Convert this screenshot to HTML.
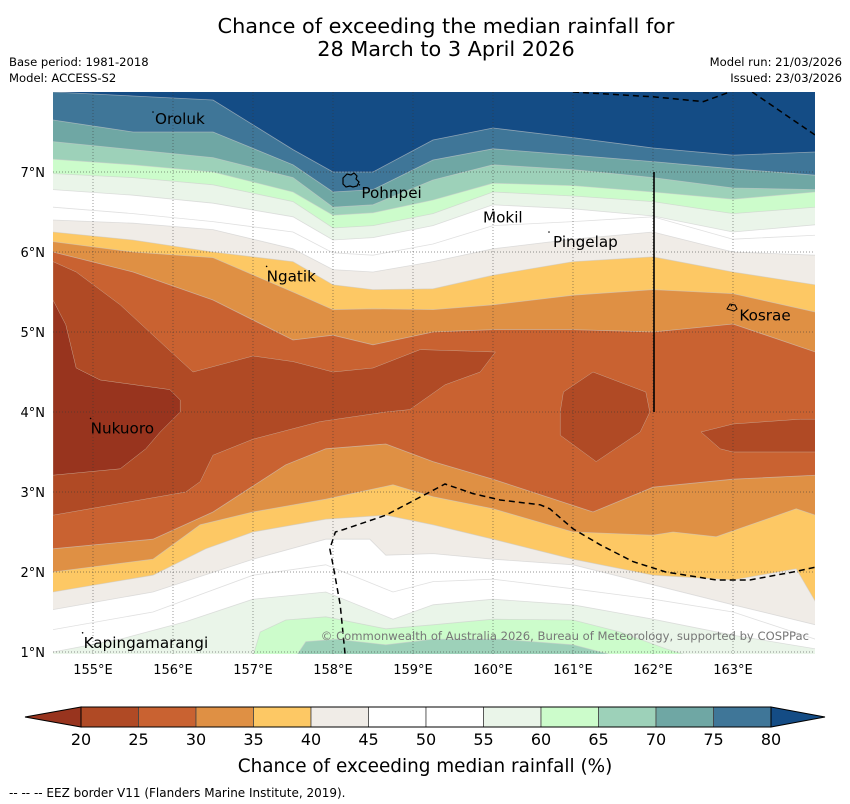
<!DOCTYPE html>
<html><head><meta charset="utf-8">
<style>
html,body{margin:0;padding:0;background:#fff;width:850px;height:804px;overflow:hidden}
svg{display:block;font-family:"DejaVu Sans","Liberation Sans",sans-serif}
</style></head>
<body>
<svg id="chart" width="850" height="804" viewBox="0 0 850 804" xmlns="http://www.w3.org/2000/svg">
<text x="446" y="33" font-size="20.8" text-anchor="middle" fill="#000">Chance of exceeding the median rainfall for</text>
<text x="446" y="56" font-size="20.8" text-anchor="middle" fill="#000">28 March to 3 April 2026</text>
<text x="9" y="66" font-size="11.6">Base period: 1981-2018</text>
<text x="9" y="82" font-size="11.6">Model: ACCESS-S2</text>
<text x="842" y="66" font-size="11.6" text-anchor="end">Model run: 21/03/2026</text>
<text x="842" y="82" font-size="11.6" text-anchor="end">Issued: 23/03/2026</text>
<defs><clipPath id="mapclip"><rect x="53" y="92" width="762" height="562"/></clipPath></defs>
<g id="map" clip-path="url(#mapclip)"></g>
<g id="overlay"></g>
<g id="colorbar"></g>
<text x="425" y="772" font-size="18.4" text-anchor="middle">Chance of exceeding median rainfall (%)</text>
<text x="9" y="797" font-size="12">--  --  -- EEZ border V11 (Flanders Marine Institute, 2019).</text>
</svg>
<script>
// ---- data ----
const levels = [30,35,40,45,50,55,60,65,70,75,80];
const northLons = [154.5,155.5,156.5,157.5,158.0,158.5,159.25,160.0,161.0,162.0,163.0,164.03];
const north30 = [6.00,5.75,5.40,4.90,4.96,4.84,5.00,5.03,5.03,5.00,5.10,4.75];
const north35 = [6.13,6.00,5.93,5.50,5.28,5.29,5.28,5.34,5.46,5.53,5.48,5.25];
const north40 = [6.25,6.15,6.00,5.88,5.59,5.53,5.54,5.71,5.88,5.94,5.75,5.59];
const north45 = [6.40,6.36,6.28,6.04,5.78,5.75,5.88,6.04,6.16,6.25,6.00,5.96];
const north50 = [6.56,6.48,6.38,6.25,5.99,5.96,6.10,6.33,6.38,6.44,6.16,6.21];
const north55 = [6.78,6.71,6.61,6.44,6.15,6.18,6.33,6.59,6.54,6.45,6.25,6.34];
const north60 = [6.98,6.93,6.84,6.63,6.30,6.33,6.48,6.75,6.70,6.63,6.48,6.56];
const north65 = [7.16,7.09,7.00,6.75,6.46,6.49,6.65,6.86,6.83,6.75,6.66,6.75];
const north70 = [7.38,7.28,7.18,6.93,6.56,6.59,6.90,7.09,7.03,6.93,6.80,6.78];
const north75 = [7.65,7.50,7.50,7.09,6.75,6.78,7.15,7.29,7.21,7.13,7.04,6.96];
const north80 = [8.00,7.95,7.90,7.28,7.00,7.00,7.40,7.55,7.43,7.30,7.21,7.25];

const south30Lons = [154.5,155.75,156.5,157.41,157.91,158.66,159.25,160,161.25,162,163,164.03];
const south30Lats = [2.29,2.41,2.75,3.34,3.54,3.60,3.38,3.16,2.75,3.06,3.16,3.21];
const south35Lons = [154.5,155.75,156.34,157,157.91,158.75,159.25,160,161,162,162.25,162.79,163.79,164.03];
const south35Lats = [2.0,2.16,2.59,2.75,2.91,3.09,2.94,2.79,2.50,2.46,2.50,2.44,2.79,2.71];
const south40Lons = [154.5,155.75,156.41,157,157.91,158.66,159.25,160,161,162,163,163.79,164.03];
const south40Lats = [1.75,1.96,2.29,2.50,2.66,2.71,2.59,2.41,2.16,1.96,1.90,2.04,1.63];
const south45Lons = [154.5,155.75,157,157.91,158.46,158.66,159.25,160,161,162,163,164.03];
const south45Lats = [1.53,1.75,2.16,2.41,2.41,2.21,2.23,2.16,2.09,1.84,1.59,1.34];
const south50Lons = [154.5,155.75,157,157.91,158.75,159.25,160,161,162,163,164.03];
const south50Lats = [1.28,1.50,1.96,2.09,1.75,1.88,1.91,1.79,1.66,1.50,1.16];
const south55Lons = [154.5,155.34,156.16,157,157.91,158.75,159.25,160,161,162,163,164.03];
const south55Lats = [1.00,1.16,1.38,1.66,1.75,1.41,1.59,1.66,1.59,1.41,1.21,1.04];
const south60Lons = [157,157.09,157.41,157.91,158.66,159.25,160,161,161.59,162.16,162.46];
const south60Lats = [0.95,1.25,1.40,1.44,1.29,1.34,1.41,1.40,1.25,1.04,0.95];
const south65Lons = [157.54,157.66,158.04,158.66,159.25,160.09,161,161.54];
const south65Lats = [0.95,1.13,1.16,1.09,1.16,1.16,1.09,0.95];

const low2025Lons = [154.5,154.79,155.34,155.88,156.25,157,157.5,158,158.5,159.09,160.03,159.84,159.4,158.96,158.66,157.84,157,156.5,156.34,156.16,154.5];
const low2025Lats = [5.88,5.75,5.34,4.84,4.5,4.7,4.63,4.5,4.55,4.78,4.75,4.5,4.34,4.03,4.0,3.88,3.66,3.46,3.13,3.0,2.71];
const lowBelow20Lons = [154.5,154.66,154.79,155.09,155.96,156.09,156.09,155.84,155.66,155.34,154.5];
const lowBelow20Lats = [5.40,5.09,4.55,4.40,4.28,4.15,4.0,3.75,3.54,3.29,3.21];
const blobALons = [160.84,160.88,161.25,161.91,161.96,161.84,161.29,160.84];
const blobALats = [4.0,4.25,4.5,4.25,4.0,3.75,3.38,3.71];
const blobBLons = [162.6,163,163.84,164.1,164.1,163,162.84];
const blobBLats = [3.75,3.85,3.91,3.91,3.5,3.5,3.54];

const eezNorthLons = [161,162,162.63,162.96];
const eezNorthLats = [8.0,7.94,7.88,8.0];
const eezNEastLons = [163.24,164.03];
const eezNEastLats = [8.0,7.46];
const eezSouthLons = [158.15,158.09,158,157.96,158.03,158.13,158.66,159.4,159.75,160.09,160.59,160.71,161,161.34,161.75,162.16,162.79,163.21,163.75,164.03];
const eezSouthLats = [0.98,1.59,2.09,2.29,2.5,2.53,2.71,3.1,2.98,2.9,2.84,2.79,2.54,2.34,2.13,2.0,1.9,1.9,2.0,2.06];

const lonTicks = [155,156,157,158,159,160,161,162,163];
const latTicks = [1,2,3,4,5,6,7];
const cbTicks = [20,25,30,35,40,45,50,55,60,65,70,75,80];
const bandColors = ["#b04a25","#c96231","#df9044","#fdc864","#f0ece7","#ffffff","#ffffff","#eaf5e9","#ccfccb","#9dd1b9","#6fa7a4","#3f7698"];
const colorBelow = "#98341e";
const colorAbove = "#144c85";

const islands = [
 {name:"Oroluk",lon:155.75,lat:7.65,dx:2,dy:-1},
 {name:"Pohnpei",lon:158.33,lat:6.74,dx:2,dy:0},
 {name:"Mokil",lon:160.0,lat:6.43,dx:-10,dy:0},
 {name:"Pingelap",lon:160.7,lat:6.15,dx:4,dy:2},
 {name:"Ngatik",lon:157.17,lat:5.72,dx:0,dy:2},
 {name:"Kosrae",lon:162.98,lat:5.23,dx:8,dy:2},
 {name:"Nukuoro",lon:154.97,lat:3.82,dx:0,dy:2},
 {name:"Kapingamarangi",lon:154.87,lat:1.14,dx:1,dy:2}
];

// ---- axes ----
const lonMin=154.5, lonMax=164.025, latMin=0.975, latMax=8.0;
const X0=53, X1=815, Y0=92, Y1=654;
const xs = lon => X0 + (lon-lonMin)/(lonMax-lonMin)*(X1-X0);
const ys = lat => Y0 + (latMax-lat)/(latMax-latMin)*(Y1-Y0);
const NS="http://www.w3.org/2000/svg";
const map=document.getElementById('map');
const overlay=document.getElementById('overlay');
function mk(tag,attrs,parent){const e=document.createElementNS(NS,tag);for(const k in attrs)e.setAttribute(k,attrs[k]);parent.appendChild(e);return e;}
function pts(lons,lats){return lons.map((l,i)=>xs(l).toFixed(1)+","+ys(lats[i]).toFixed(1));}

let bg=mk('rect',{x:X0,y:Y0,width:X1-X0,height:Y1-Y0,fill:bandColors[1]},map);



const northCurves=[north30,north35,north40,north45,north50,north55,north60,north65,north70,north75,north80];
northCurves.forEach((lats,i)=>{
  const L=levels[i];
  const col = L>=80?colorAbove:bandColors[(L-20)/5];
  const p=[xs(lonMin-0.2)+","+ys(9)].concat([xs(lonMin-0.2)+","+ys(lats[0])],pts(northLons,lats),[xs(lonMax+0.2)+","+ys(lats[lats.length-1]),xs(lonMax+0.2)+","+ys(9)]);
  const poly=mk('polygon',{points:p.join(' '),fill:col},map);
  
  
  const ln=mk('polyline',{points:pts(northLons,lats).join(' '),fill:'none',stroke:'#cccccc','stroke-width':0.8,'stroke-opacity':0.6},map);
  
  
});

function blob(lons,lats,col,name){
  const p=mk('polygon',{points:pts(lons,lats).join(' '),fill:col,stroke:'#c9a08a','stroke-width':0.5},map);
  
  
}
blob(low2025Lons,low2025Lats,bandColors[0],'band-20-25-west');
blob(lowBelow20Lons,lowBelow20Lats,colorBelow,'band-below-20-west');
blob(blobALons,blobALats,bandColors[0],'band-20-25-central');
blob(blobBLons,blobBLats,bandColors[0],'band-20-25-east');

const southCurves=[[south30Lons,south30Lats,30],[south35Lons,south35Lats,35],[south40Lons,south40Lats,40],[south45Lons,south45Lats,45],[south50Lons,south50Lats,50],[south55Lons,south55Lats,55],[south60Lons,south60Lats,60],[south65Lons,south65Lats,65]];
southCurves.forEach(([lons,lats,L])=>{
  const col=bandColors[(L-20)/5];
  const first=lons[0], last=lons[lons.length-1];
  let p=pts(lons,lats);
  const full = first<=lonMin+0.01 && last>=lonMax-0.01;
  if(full){ p=[xs(lonMin-0.2)+","+ys(lats[0])].concat(p,[xs(lonMax+0.2)+","+ys(lats[lats.length-1]),xs(lonMax+0.2)+","+ys(0),xs(lonMin-0.2)+","+ys(0)]); }
  else { p=p.concat([xs(last)+","+ys(0),xs(first)+","+ys(0)]); }
  const poly=mk('polygon',{points:p.join(' '),fill:col},map);
  
  
  const ln=mk('polyline',{points:pts(lons,lats).join(' '),fill:'none',stroke:'#cccccc','stroke-width':0.8,'stroke-opacity':0.6},map);
  
  
});

lonTicks.forEach(l=>{
  const g=mk('line',{x1:xs(l),x2:xs(l),y1:Y0,y2:Y1,stroke:'#333','stroke-width':0.7,'stroke-dasharray':'1,2','stroke-opacity':0.7},map);
  
  
  const t=mk('text',{x:xs(l),y:674,'font-size':13,'text-anchor':'middle'},overlay);
  t.textContent=l+'°E';
  
  
});
latTicks.forEach(l=>{
  const g=mk('line',{x1:X0,x2:X1,y1:ys(l),y2:ys(l),stroke:'#333','stroke-width':0.7,'stroke-dasharray':'1,2','stroke-opacity':0.7},map);
  
  
  const t=mk('text',{x:45,y:ys(l)+5,'font-size':13,'text-anchor':'end'},overlay);
  t.textContent=l+'°N';
  
  
});

[[eezNorthLons,eezNorthLats,'eez-border-north'],[eezNEastLons,eezNEastLats,'eez-border-northeast'],[eezSouthLons,eezSouthLats,'eez-border-south']].forEach(([a,b,n])=>{
  const e=mk('polyline',{points:pts(a,b).join(' '),fill:'none',stroke:'#000','stroke-width':1.5,'stroke-dasharray':'6,4'},map);
  
  
});
const sl=mk('line',{x1:xs(162)+1,x2:xs(162)+1,y1:ys(7),y2:ys(4),stroke:'#000','stroke-width':1.6},map);



const pohn=mk('path',{d:'M343,178 l4,-4 l4,1 l3,-2 l3,3 l-1,3 l3,3 l-2,4 l-4,1 l-3,-1 l-4,1 l-3,-3 z',fill:'none',stroke:'#000','stroke-width':1.2},map);


const kos=mk('path',{d:'M727,309 l3,-5 l5,1 l2,4 l-3,2 z',fill:'none',stroke:'#000','stroke-width':1},map);


islands.forEach(is=>{
  const d=mk('circle',{cx:xs(is.lon),cy:ys(is.lat)-8,r:0.8,fill:'#000'},map);
  
  
  const t=mk('text',{x:xs(is.lon)+is.dx,y:ys(is.lat)+5+is.dy,'font-size':15.2,fill:'#000'},map);
  t.textContent=is.name;
  
  
});
const cp=mk('text',{x:809,y:640,'font-size':11.6,'text-anchor':'end',fill:'#777'},map);
cp.textContent='© Commonwealth of Australia 2026, Bureau of Meteorology, supported by COSPPac';



const cb=document.getElementById('colorbar');
const cbX0=81, cbW=57.5, cbY=707, cbH=20;
const tl=mk('polygon',{points:`${cbX0},${cbY} ${cbX0},${cbY+cbH} 25,${cbY+cbH/2}`,fill:colorBelow,stroke:'#000','stroke-width':1},cb);


const xe=cbX0+cbW*bandColors.length;
const tr=mk('polygon',{points:`${xe},${cbY} ${xe},${cbY+cbH} 825,${cbY+cbH/2}`,fill:colorAbove,stroke:'#000','stroke-width':1},cb);


bandColors.forEach((c,i)=>{
  const r=mk('rect',{x:cbX0+i*cbW,y:cbY,width:cbW,height:cbH,fill:c,stroke:'#444','stroke-width':0.8},cb);
  
  
});
mk('rect',{x:cbX0,y:cbY,width:xe-cbX0,height:cbH,fill:'none',stroke:'#000','stroke-width':1},cb);
cbTicks.forEach((v,i)=>{
  const t=mk('text',{x:cbX0+i*cbW,y:745,'font-size':16,'text-anchor':'middle'},cb);
  t.textContent=v;
  
  
});
</script>
</body></html>
